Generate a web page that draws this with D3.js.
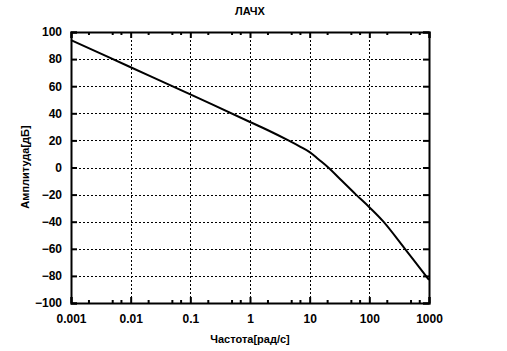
<!DOCTYPE html>
<html>
<head>
<meta charset="utf-8">
<script src="https://cdn.jsdelivr.net/npm/d3@7"></script>
<style>
    body { margin: 0; background: #fff; }
    text { font-family: "Liberation Sans", Arial, sans-serif; font-weight: bold; fill: #000; }
</style>
</head>
<body>
<svg id="chart" width="507" height="351"></svg>
<script>
// frequency response
let freq = [0.001, 0.01, 0.1, 1, 2, 4.4, 7, 10, 14, 20.5, 35, 59.7, 100, 171, 395, 887, 1000];
let amp = [94, 74, 54, 33.6, 27.5, 20, 15.3, 11.4, 6.1, 0, -10, -20, -29.3, -39.8, -60, -80, -83];

let xTicks = [0.001, 0.01, 0.1, 1, 10, 100, 1000];
let yTicks = [-100, -80, -60, -40, -20, 0, 20, 40, 60, 80, 100];
let minorMult = [2, 5, 7];

let titleText = "ЛАЧХ";
let xLabel = "Частота[рад/с]";
let yLabel = "Амплитуда[дБ]";

let width = 507, height = 351;
let margin = { left: 71, right: 78, top: 32, bottom: 48 };
let plotW = width - margin.left - margin.right;
let plotH = height - margin.top - margin.bottom;

let svg = d3.select("#chart");
let g = svg.append("g").attr("transform", "translate(" + margin.left + "," + margin.top + ")");

let x = d3.scaleLog().domain([0.001, 1000]).range([0, plotW]);
let y = d3.scaleLinear().domain([-100, 100]).range([plotH, 0]);

// grid lines (dotted)
g.append("g")
    .selectAll("line")
    .data(xTicks.slice(1, -1))
    .enter()
    .append("line")
    .attr("x1", d => Math.round(x(d)) + 0.5)
    .attr("x2", d => Math.round(x(d)) + 0.5)
    .attr("y1", 0)
    .attr("y2", plotH)
    .attr("stroke", "#000")
    .attr("stroke-dasharray", "2,2");

g.append("g")
    .selectAll("line")
    .data(yTicks.slice(1, -1))
    .enter()
    .append("line")
    .attr("y1", d => Math.round(y(d)) + 0.5)
    .attr("y2", d => Math.round(y(d)) + 0.5)
    .attr("x1", 0)
    .attr("x2", plotW)
    .attr("stroke", "#000")
    .attr("stroke-dasharray", "2,2");

// minor ticks on the log axis
let minor = [];
xTicks.slice(0, -1).forEach(d => minorMult.forEach(m => minor.push(d * m)));

let xAxisB = d3.axisBottom(x).tickValues(xTicks).tickFormat(d => String(d)).tickSize(-6).tickPadding(11);
let xAxisT = d3.axisTop(x).tickValues(xTicks).tickFormat("").tickSize(-6);
let yAxisL = d3.axisLeft(y).tickValues(yTicks).tickSize(-6).tickPadding(9);
let yAxisR = d3.axisRight(y).tickValues(yTicks).tickFormat("").tickSize(-6);

function styleAxis(sel) {
    sel.select(".domain").attr("stroke-width", 2);
    sel.selectAll(".tick line").attr("stroke-width", 2);
    sel.selectAll("text").attr("font-size", 12).attr("font-family", null);
}

g.append("g").attr("transform", "translate(0," + plotH + ")").call(xAxisB).call(styleAxis);
g.append("g").call(xAxisT).call(styleAxis);
g.append("g").call(yAxisL).call(styleAxis);
g.append("g").attr("transform", "translate(" + plotW + ",0)").call(yAxisR).call(styleAxis);

g.append("g")
    .selectAll("line")
    .data(minor)
    .enter()
    .append("g")
    .each(function (d) {
        let t = d3.select(this);
        t.append("line").attr("x1", x(d)).attr("x2", x(d)).attr("y1", plotH).attr("y2", plotH - 3);
        t.append("line").attr("x1", x(d)).attr("x2", x(d)).attr("y1", 0).attr("y2", 3);
    })
    .selectAll("line")
    .attr("stroke", "#000")
    .attr("stroke-width", 2);

// the curve
let line = d3.line()
    .x((d, i) => x(freq[i]))
    .y(d => y(d))
    .curve(d3.curveCatmullRom.alpha(0.5));

g.append("path")
    .datum(amp)
    .attr("d", line)
    .attr("fill", "none")
    .attr("stroke", "#000")
    .attr("stroke-width", 2);

// titles
svg.append("text")
    .attr("x", 250)
    .attr("y", 15)
    .attr("text-anchor", "middle")
    .attr("font-size", 11)
    .text(titleText);

svg.append("text")
    .attr("x", 250)
    .attr("y", 343)
    .attr("text-anchor", "middle")
    .attr("font-size", 11)
    .text(xLabel);

svg.append("text")
    .attr("transform", "translate(29,167) rotate(-90)")
    .attr("text-anchor", "middle")
    .attr("font-size", 11)
    .text(yLabel);
</script>
</body>
</html>
